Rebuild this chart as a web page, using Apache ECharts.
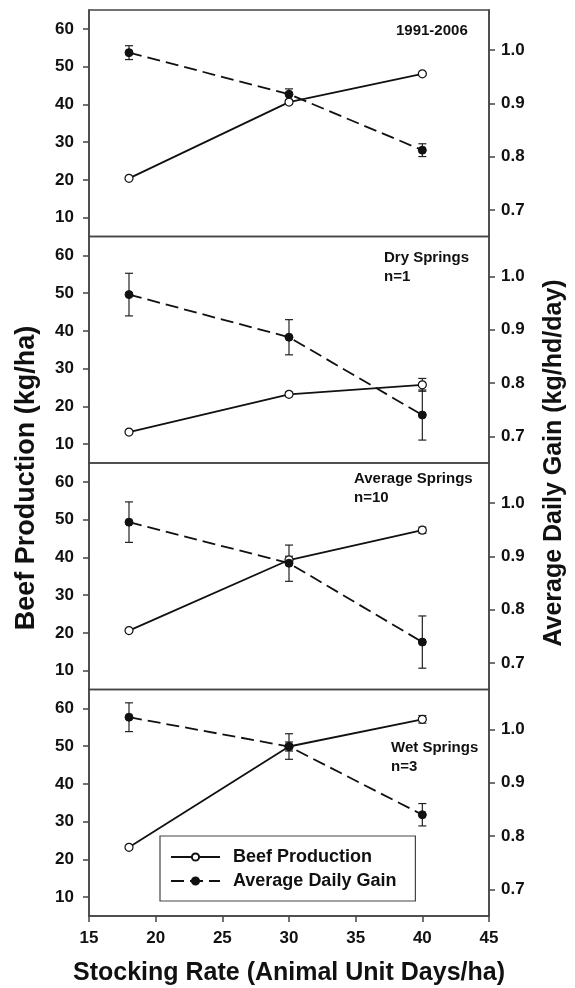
<!DOCTYPE html>
<html lang="en">
<head>
<meta charset="UTF-8" />
<title>Beef Production and Average Daily Gain</title>
<style>
  html, body { margin: 0; padding: 0; background: #fff; }
  #main { width: 575px; height: 988px; }
</style>
</head>
<body>
<div id="main"></div>
<script src="https://cdn.jsdelivr.net/npm/echarts@6/dist/echarts.min.js"></script>
<script>
// stocking rate (AUD/ha) used in every panel
const stocking = [18, 30, 40];
const panelLabels = ['1991-2006', 'Dry Springs\nn=1', 'Average Springs\nn=10', 'Wet Springs\nn=3'];

// beef production (kg/ha), one row per panel
const beef = [
  [20.4, 40.6, 48.1],
  [13.2, 23.2, 25.7],
  [20.6, 39.3, 47.2],
  [23.2, 49.9, 57.1]
];
const beefErr = [
  [0.3, 0.6, 0.3],
  [0.3, 0.6, 1.7],
  [0.3, 1.0, 0.8],
  [0.4, 1.2, 1.0]
];

// average daily gain (kg/hd/day)
const adg = [
  [0.995, 0.917, 0.812],
  [0.966, 0.886, 0.740],
  [0.964, 0.887, 0.739],
  [1.023, 0.968, 0.840]
];
const adgErr = [
  [0.013, 0.010, 0.012],
  [0.040, 0.033, 0.047],
  [0.038, 0.034, 0.049],
  [0.027, 0.024, 0.021]
];

const beefTicks = [10, 20, 30, 40, 50, 60];
const adgTicks = [0.7, 0.8, 0.9, 1.0];

const FONT = '"Liberation Sans", Arial, Helvetica, sans-serif';
const INK = '#111';
const FRAME = '#444';

const chart = echarts.init(document.getElementById('main'));

const tops = [10, 236.5, 463, 689.5];
const panelH = 226.5;
// where each panel's note goes [left, top]
const notePos = [[396, 21], [384, 248], [354, 469], [391, 738]];

function errorBar(params, api) {
  const x = api.value(0), y = api.value(1), e = api.value(2);
  const hi = api.coord([x, y + e]);
  const lo = api.coord([x, y - e]);
  const cap = 4;
  const style = { stroke: '#222', lineWidth: 1.2 };
  return {
    type: 'group',
    children: [
      { type: 'line', shape: { x1: hi[0], y1: hi[1], x2: lo[0], y2: lo[1] }, style: style },
      { type: 'line', shape: { x1: hi[0] - cap, y1: hi[1], x2: hi[0] + cap, y2: hi[1] }, style: style },
      { type: 'line', shape: { x1: lo[0] - cap, y1: lo[1], x2: lo[0] + cap, y2: lo[1] }, style: style }
    ]
  };
}

const grids = [], xAxes = [], yAxes = [], series = [], notes = [];

for (let i = 0; i < 4; i++) {
  const last = i === 3;
  grids.push({
    left: 89, right: 86, top: tops[i], height: panelH,
    show: true, borderColor: FRAME, borderWidth: 1.5, backgroundColor: 'transparent'
  });
  xAxes.push({
    gridIndex: i, type: 'value', min: 15, max: 45, interval: 5,
    axisLine: { show: last, lineStyle: { color: FRAME, width: 1.5 } },
    axisTick: { show: last, length: 6, lineStyle: { color: FRAME, width: 1.5 } },
    axisLabel: { show: last, margin: 14, color: INK, fontSize: 17, fontWeight: 'bold', fontFamily: FONT },
    splitLine: { show: false }
  });
  yAxes.push({
    gridIndex: i, type: 'value', position: 'left', min: 5, max: 65,
    axisLine: { show: true, lineStyle: { color: FRAME, width: 1.5 } },
    axisTick: { show: true, length: 6, customValues: beefTicks, lineStyle: { color: FRAME, width: 1.5 } },
    axisLabel: { customValues: beefTicks, margin: 15, color: INK, fontSize: 17, fontWeight: 'bold', fontFamily: FONT },
    splitLine: { show: false }
  });
  yAxes.push({
    gridIndex: i, type: 'value', position: 'right', min: 0.65, max: 1.075,
    axisLine: { show: true, lineStyle: { color: FRAME, width: 1.5 } },
    axisTick: { show: true, length: 6, customValues: adgTicks, lineStyle: { color: FRAME, width: 1.5 } },
    axisLabel: {
      customValues: adgTicks, margin: 12, color: INK, fontSize: 17, fontWeight: 'bold', fontFamily: FONT,
      formatter: v => v.toFixed(1)
    },
    splitLine: { show: false }
  });

  series.push({
    type: 'custom', xAxisIndex: i, yAxisIndex: 2 * i, renderItem: errorBar, z: 2,
    encode: { x: 0, y: 1 },
    data: stocking.map((x, j) => [x, beef[i][j], beefErr[i][j]])
  });
  series.push({
    type: 'custom', xAxisIndex: i, yAxisIndex: 2 * i + 1, renderItem: errorBar, z: 2,
    encode: { x: 0, y: 1 },
    data: stocking.map((x, j) => [x, adg[i][j], adgErr[i][j]])
  });
  series.push({
    name: 'Beef Production', type: 'line', xAxisIndex: i, yAxisIndex: 2 * i, z: 3,
    symbol: 'circle', symbolSize: 8, showAllSymbol: true,
    lineStyle: { color: INK, width: 1.8 },
    itemStyle: { color: '#fff', borderColor: INK, borderWidth: 1.2 },
    data: stocking.map((x, j) => [x, beef[i][j]])
  });
  series.push({
    name: 'Average Daily Gain', type: 'line', xAxisIndex: i, yAxisIndex: 2 * i + 1, z: 3,
    symbol: 'circle', symbolSize: 8,
    lineStyle: { color: INK, width: 1.8, type: [13, 6] },
    itemStyle: { color: INK, borderColor: INK, borderWidth: 1 },
    data: stocking.map((x, j) => [x, adg[i][j]])
  });

  notes.push({
    type: 'text', left: notePos[i][0], top: notePos[i][1],
    style: { text: panelLabels[i], font: 'bold 15px ' + FONT, fill: INK, lineHeight: 19 }
  });
}

const option = {
  backgroundColor: '#fff',
  animation: false,
  grid: grids,
  xAxis: xAxes,
  yAxis: yAxes,
  series: series,
  legend: {
    data: ['Beef Production', 'Average Daily Gain'],
    orient: 'vertical', left: 160, top: 836,
    padding: [12, 19, 11, 10], itemGap: 6, itemWidth: 49, itemHeight: 9,
    borderColor: FRAME, borderWidth: 1.2, backgroundColor: '#fff',
    textStyle: { color: INK, fontSize: 18, fontWeight: 'bold', fontFamily: FONT, padding: [0, 0, 0, 8] },
    selectedMode: false
  },
  graphic: notes.concat([
    {
      type: 'text', x: 27, y: 478, rotation: Math.PI / 2,
      style: { text: 'Beef Production (kg/ha)', font: 'bold 27px ' + FONT, fill: INK,
        textAlign: 'center', textVerticalAlign: 'middle' }
    },
    {
      type: 'text', x: 554, y: 463, rotation: Math.PI / 2,
      style: { text: 'Average Daily Gain (kg/hd/day)', font: 'bold 25px ' + FONT, fill: INK,
        textAlign: 'center', textVerticalAlign: 'middle' }
    },
    {
      type: 'text', x: 289, y: 973,
      style: { text: 'Stocking Rate (Animal Unit Days/ha)', font: 'bold 25px ' + FONT, fill: INK,
        textAlign: 'center', textVerticalAlign: 'middle' }
    }
  ])
};

chart.setOption(option);
</script>
</body>
</html>
